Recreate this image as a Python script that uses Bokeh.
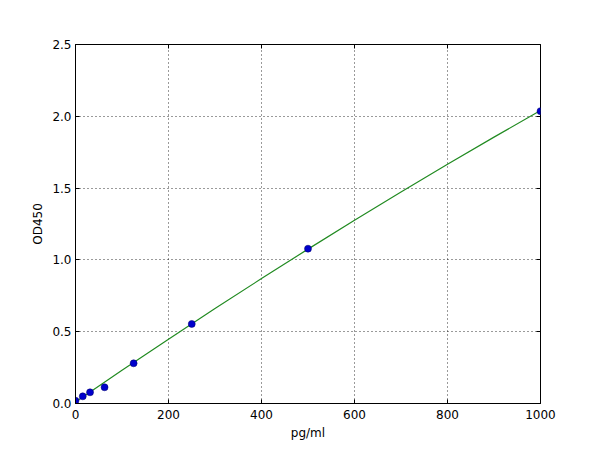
from bokeh.plotting import figure
from bokeh.models import LinearAxis, Range1d, FixedTicker, CustomJSTickFormatter
from bokeh.embed import file_html
from bokeh.resources import INLINE

# standards (pg/ml) and measured OD450
conc = [0, 15.6, 31.25, 62.5, 125, 250, 500, 1000]
od = [0.02, 0.05, 0.078, 0.113, 0.28, 0.554, 1.078, 2.036]

# fitted curve
fit_x = [0, 100, 200, 300, 400, 500, 600, 700, 800, 900, 1000]
fit_y = [0.01, 0.231, 0.448, 0.661, 0.870, 1.075, 1.276, 1.473, 1.666, 1.855, 2.04]

x_ticks = [0, 200, 400, 600, 800, 1000]
y_ticks = [0.0, 0.5, 1.0, 1.5, 2.0, 2.5]

FONT = "DejaVu Sans"

p = figure(width=592, height=442, output_backend="svg", toolbar_location=None,
           x_range=Range1d(0, 1000), y_range=Range1d(0, 2.5),
           x_axis_label="pg/ml", y_axis_label="OD450",
           min_border_left=75, min_border_right=52, min_border_top=44, min_border_bottom=37)

p.background_fill_color = "white"
p.border_fill_color = "white"
p.outline_line_color = "black"
p.outline_line_width = 1

p.line(fit_x, fit_y, line_color="#228b22", line_width=1.2)
p.scatter(conc, od, size=7, fill_color="#0000cc", line_color="#000066", line_width=0.5)

for ax in (p.xaxis[0], p.yaxis[0]):
    ax.major_tick_in = 4
    ax.major_tick_out = 0
    ax.minor_tick_line_color = None
    ax.axis_line_color = "black"
    ax.major_label_text_font = FONT
    ax.major_label_text_font_size = "12px"
    ax.major_label_text_color = "black"
    ax.axis_label_text_font = FONT
    ax.axis_label_text_font_size = "12px"
    ax.axis_label_text_font_style = "normal"
    ax.axis_label_text_color = "black"

p.xaxis.ticker = FixedTicker(ticks=x_ticks)
p.yaxis.ticker = FixedTicker(ticks=y_ticks)
p.yaxis.formatter = CustomJSTickFormatter(code="return tick.toFixed(1);")
p.xaxis.major_label_standoff = 6
p.yaxis.major_label_standoff = 4
p.xaxis.axis_label_standoff = 4
p.yaxis.axis_label_standoff = 4

# ticks on top and right edges, no labels
blank = CustomJSTickFormatter(code="return '';")
top = LinearAxis(ticker=FixedTicker(ticks=x_ticks), formatter=blank,
                 major_tick_in=4, major_tick_out=0, minor_tick_line_color=None,
                 axis_line_color=None)
right = LinearAxis(ticker=FixedTicker(ticks=y_ticks), formatter=blank,
                   major_tick_in=4, major_tick_out=0, minor_tick_line_color=None,
                   axis_line_color=None)
p.add_layout(top, "above")
p.add_layout(right, "right")

p.grid.grid_line_color = "black"
p.grid.grid_line_dash = "1 3"
p.grid.grid_line_width = 0.8
p.xgrid.ticker = FixedTicker(ticks=x_ticks)
p.ygrid.ticker = FixedTicker(ticks=y_ticks)

open("out.html", "w").write(file_html(p, INLINE))
